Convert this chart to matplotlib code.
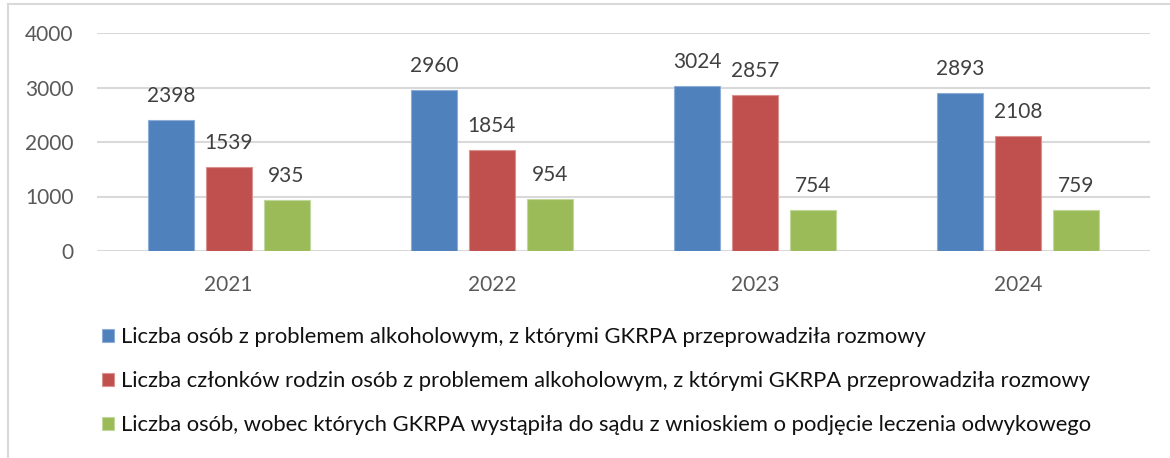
import numpy as np
import matplotlib.pyplot as plt
from matplotlib.lines import Line2D

plt.rcParams['font.family'] = ['Lato', 'DejaVu Sans']

years = ["2021", "2022", "2023", "2024"]
alkohol = [2398, 2960, 3024, 2893]
rodziny = [1539, 1854, 2857, 2108]
sad = [935, 954, 754, 759]

labels = [
    "Liczba osób z problemem alkoholowym, z którymi GKRPA przeprowadziła rozmowy",
    "Liczba członków rodzin osób z problemem alkoholowym, z którymi GKRPA przeprowadziła rozmowy",
    "Liczba osób, wobec których GKRPA wystąpiła do sądu z wnioskiem o podjęcie leczenia odwykowego",
]
colors = ["#4F81BD", "#C0504D", "#9BBB59"]
edges = ["#8EADD6", "#DA9290", "#C2D79E"]

W, H = 1170, 458
fig = plt.figure(figsize=(W / 100, H / 100), dpi=100)
ax = fig.add_axes([97 / W, (H - 251) / H, (1150 - 97) / W, (251 - 33) / H])

x = np.arange(len(years))
offsets = [-0.22, 0, 0.22]
width = 0.175
handles = []
for series, off, c, e, lab in zip([alkohol, rodziny, sad], offsets, colors, edges, labels):
    bars = ax.bar(x + off, series, width, color=c, edgecolor=e, linewidth=0.8, label=lab, zorder=3)
    handles.append(bars)
    for xi, v in zip(x + off, series):
        ax.annotate(str(v), (xi, v), xytext=(0, 10), textcoords="offset points",
                    ha="center", va="bottom", fontsize=15, color="#404040")

ax.set_xlim(-0.5, 3.5)
ax.set_ylim(0, 4000)
ax.set_yticks([0, 1000, 2000, 3000, 4000])
ax.set_xticks(x)
ax.set_xticklabels(years)
ax.tick_params(axis="both", length=0, labelsize=15, labelcolor="#595959", pad=17)
ax.grid(axis="y", color="#D9D9D9", linewidth=1.5, zorder=0)
ax.set_axisbelow(True)
for s in ax.spines.values():
    s.set_visible(False)

fig.legend(handles=handles, loc="upper left", bbox_to_anchor=(102 / W, 1 - 327 / H),
           frameon=False, fontsize=15.8, labelcolor="#111111", handlelength=0.55,
           handleheight=0.55, handletextpad=0.3, labelspacing=1.1, borderpad=0,
           borderaxespad=0)

fig.add_artist(Line2D([8 / W, 1], [1 - 4 / H, 1 - 4 / H], color="#D9D9D9", lw=1.5))
fig.add_artist(Line2D([8 / W, 8 / W], [0, 1 - 4 / H], color="#D9D9D9", lw=1.5))

fig.savefig("out.png", dpi=100)
